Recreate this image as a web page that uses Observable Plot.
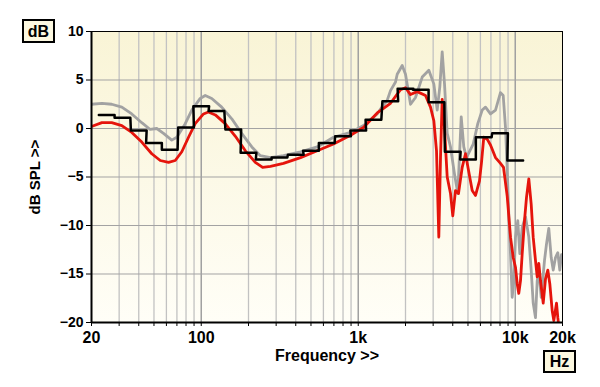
<!DOCTYPE html>
<html>
<head>
<meta charset="utf-8">
<script src="https://cdn.jsdelivr.net/npm/d3@7"></script>
<script src="https://cdn.jsdelivr.net/npm/@observablehq/plot@0.6"></script>
<style>
  html, body { margin: 0; padding: 0; background: #ffffff; }
  #chart { width: 600px; height: 387px; }
</style>
</head>
<body>
<div id="chart"></div>
<script>
// ---- Data ----
const yTicks = [-20, -15, -10, -5, 0, 5, 10];
const xLabelTicks = [20, 100, 1000, 10000, 20000];

// red curve
const redFreq = [20, 23.3, 26.9, 31.2, 36.1, 41.8, 48.4, 54.8, 61.9, 68.3, 75.2, 83, 91.5, 103.4, 111, 123, 142, 165, 191, 221, 246, 276, 334, 429, 548, 696, 893, 1080, 1321, 1605, 1859, 2000, 2153, 2374, 2682, 2886, 3030, 3152, 3260, 3342, 3426, 3544, 3687, 3870, 4001, 4163, 4352, 4594, 4822, 5038, 5320, 5584, 5920, 6098, 6306, 6628, 6956, 7486, 8054, 8420, 8890, 9331, 9705, 10036, 10290, 10534, 10800, 11074, 11456, 11796, 12202, 12636, 13014, 13458, 13800, 14126, 14486, 15072, 15588, 16124, 16602, 17198, 17606, 18318, 18672, 19142];
const redDb = [0.2, 0.6, 0.6, 0.3, -0.4, -1.4, -2.6, -3.3, -3.5, -3.3, -2.4, -0.9, 0.5, 1.5, 1.7, 1.4, 0.5, -0.8, -2.3, -3.5, -4.0, -3.9, -3.6, -3.0, -2.3, -1.6, -0.7, 0.1, 1.6, 2.6, 4.0, 4.2, 3.5, 3.8, 3.4, 2.2, 0.8, -2.3, -11.2, -3.0, 3.0, 0.0, -5.0, -6.7, -9.0, -6.4, -6.7, -4.0, -2.6, -4.3, -6.4, -6.9, -5.4, -3.5, -0.9, -1.1, -1.7, -3.0, -3.6, -4.0, -7.0, -11.2, -13.3, -14.3, -16, -17, -15.7, -12.9, -9.5, -7.1, -5.2, -7.8, -11.2, -13.6, -15.3, -13.9, -15.7, -18, -15.5, -14.6, -16, -18.8, -19.8, -18, -19.5, -21];

// gray curve
const grayFreq = [20, 23.3, 26.9, 31.2, 36.1, 41.8, 47.3, 52.1, 57.5, 64.9, 69.9, 79.1, 87.1, 98.5, 106, 116.7, 135, 156.5, 181, 210, 238, 276, 334, 429, 548, 696, 893, 1080, 1321, 1386, 1529, 1605, 1728, 1771, 1906, 2000, 2153, 2316, 2556, 2816, 3030, 3184, 3308, 3426, 3544, 3687, 3870, 4104, 4306, 4528, 4702, 4892, 5136, 5400, 5774, 6160, 6466, 6956, 7486, 8054, 8382, 8670, 8928, 9124, 9331, 9561, 9790, 10036, 10380, 10692, 11074, 11624, 12202, 12636, 13014, 13458, 13800, 14126, 14634, 15360, 15820, 16358, 16944, 17452, 18050, 18672, 19224, 19708];
const grayDb = [2.5, 2.6, 2.5, 2.2, 1.5, 0.6, -0.1, 0.0, -0.5, -1.2, -0.9, 0.5, 1.9, 3.1, 3.4, 3.1, 2.2, 1.0, -0.5, -1.9, -2.8, -3.0, -2.8, -2.4, -1.9, -0.9, -0.4, 0.3, 1.5, 2.0, 2.9, 3.9, 4.8, 5.6, 6.5, 5.6, 2.5, 3.2, 5.3, 6.0, 4.6, 1.9, 4.3, 7.9, 4.6, -0.5, -1.9, -4.7, -6.7, 1.2, -1.9, -3.0, -2.3, -1.6, 0.5, 1.9, 2.2, 1.5, 1.9, 3.7, 3.4, 0.1, -5.0, -9.5, -13.0, -17.4, -15.7, -11.2, -9.5, -12.9, -10.2, -9.1, -11.2, -14.6, -18, -19.5, -15.7, -14.6, -17.4, -13.6, -11.9, -10.3, -13.3, -14.6, -13.3, -12.8, -14.6, -13];

// black 1/3-octave band averages
const bandCenters = [25, 31.5, 40, 50, 63, 80, 100, 125, 160, 200, 250, 315, 400, 500, 630, 800, 1000, 1250, 1600, 2000, 2500, 3150, 4000, 5000, 6300, 8000, 10000];
const bandDb = [1.4, 1.1, -0.2, -1.5, -2.2, 0.1, 2.3, 1.8, -0.1, -2.5, -3.2, -3.0, -2.7, -2.3, -1.5, -0.8, -0.2, 0.9, 2.8, 4.1, 4.0, 2.7, -2.4, -3.2, -0.9, -0.5, -3.3];

// ---- Tables built from the arrays ----
const red = redFreq.map((f, i) => ({f, db: redDb[i]}));
const gray = grayFreq.map((f, i) => ({f, db: grayDb[i]}));
const k = Math.pow(2, 1 / 6);
const steps = [];
bandCenters.forEach((c, i) => {
  steps.push({f: c / k, db: bandDb[i]});
  steps.push({f: c * k, db: bandDb[i]});
});
const minorTicks = [];
for (const dec of [10, 100, 1000, 10000]) {
  for (let m = 1; m <= 9; m++) {
    const v = dec * m;
    if (v >= 20 && v <= 20000) minorTicks.push(v);
  }
}
const innerGrid = minorTicks.filter(v => v > 20 && v < 20000 && ![100, 1000, 10000].includes(v));
const fmt = d => d >= 1000 ? (d / 1000) + "k" : String(d);
const font = "'Liberation Sans', Arial, Helvetica, sans-serif";

const chart = Plot.plot({
  width: 600,
  height: 387,
  marginLeft: 91,
  marginRight: 38,
  marginTop: 31,
  marginBottom: 65,
  style: {fontFamily: font, background: "#ffffff", color: "#000000", overflow: "visible"},
  x: {type: "log", domain: [20, 20000]},
  y: {domain: [-20, 10]},
  marks: [
    Plot.frame({fill: "url(#bgGrad)", stroke: null}),
    Plot.gridX(innerGrid, {stroke: "#c2c2c2", strokeOpacity: 1, strokeWidth: 1.3}),
    Plot.gridX([100, 1000, 10000], {stroke: "#a0a0a0", strokeOpacity: 1, strokeWidth: 1.5}),
    Plot.gridY([-15, -10, -5, 0, 5], {stroke: "#a3a3a3", strokeOpacity: 1, strokeWidth: 1}),
    Plot.line(gray, {x: "f", y: "db", stroke: "#a2a2a2", strokeWidth: 2.8, clip: true}),
    Plot.line(red, {x: "f", y: "db", stroke: "#e5140c", strokeWidth: 2.8, clip: true}),
    Plot.line(steps, {x: "f", y: "db", stroke: "#000000", strokeWidth: 2.5, clip: true}),
    Plot.frame({stroke: "#000000", strokeWidth: 1}),
    Plot.ruleX([20], {stroke: "#000", strokeWidth: 2}),
    Plot.ruleY([-20], {stroke: "#000", strokeWidth: 2}),
    Plot.axisY(yTicks, {tickSize: 5, tickPadding: 3, fontSize: 14, fontWeight: "bold", label: null}),
    Plot.axisX(minorTicks, {tickSize: 4, tickFormat: () => "", label: null}),
    Plot.axisX(xLabelTicks, {tickSize: 0, tickPadding: 9, tickFormat: fmt, fontSize: 16, fontWeight: "bold", label: null}),
    Plot.text(["Frequency >>"], {frameAnchor: "bottom", dy: 38, fontSize: 16, fontWeight: "bold", fill: "#000"}),
    Plot.text(["dB SPL >>"], {frameAnchor: "left", textAnchor: "middle", dx: -56, rotate: -90, fontSize: 15, fontWeight: "bold", fill: "#000"})
  ]
});

// gradient definition + unit boxes
const svg = d3.select(chart);
const defs = svg.insert("defs", ":first-child");
const grad = defs.append("linearGradient").attr("id", "bgGrad")
  .attr("x1", 0).attr("y1", 0).attr("x2", 0).attr("y2", 1);
grad.append("stop").attr("offset", "0%").attr("stop-color", "#f9f4d6");
grad.append("stop").attr("offset", "100%").attr("stop-color", "#fffef7");

function unitBox(x, y, w, h, label) {
  const g = svg.append("g");
  g.append("rect").attr("x", x).attr("y", y).attr("width", w).attr("height", h)
    .attr("fill", "#fcf8e0").attr("stroke", "#000").attr("stroke-width", 2);
  g.append("text").attr("x", x + w / 2).attr("y", y + h / 2).attr("dy", "0.36em")
    .attr("text-anchor", "middle").attr("font-size", 16).attr("font-weight", "bold")
    .attr("font-family", font).attr("fill", "#000").text(label);
}
unitBox(23, 20, 31, 22, "dB");
unitBox(544, 351, 31, 21, "Hz");

document.getElementById("chart").appendChild(chart);
</script>
</body>
</html>
